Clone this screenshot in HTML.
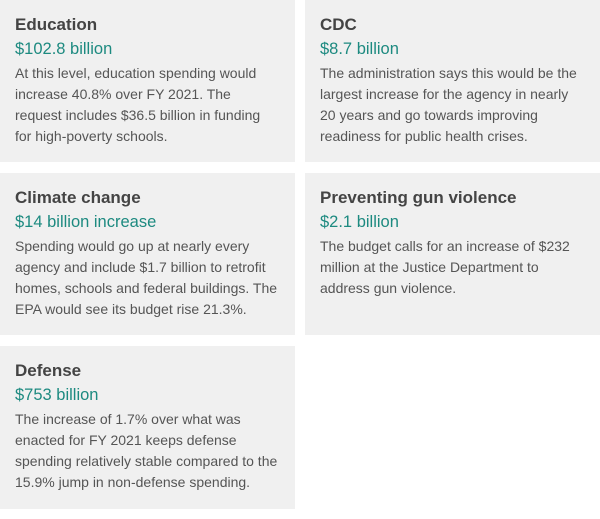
<!DOCTYPE html>
<html><head><meta charset="utf-8"><style>
body{margin:0;width:600px;height:519px;background:#fff;font-family:"Liberation Sans",Arial,sans-serif;position:relative;overflow:hidden}
.card{position:absolute;width:295px;height:162px;background:#f0f0f0;box-sizing:border-box;padding:14px 15px 0 15px}
.t{font-size:17px;font-weight:bold;color:#444;line-height:22px;margin:0;white-space:nowrap}
.a{font-size:16.5px;color:#1d8a80;line-height:22px;margin:2px 0 3px;white-space:nowrap}
.b{font-size:14px;color:#555;line-height:21px;margin:0;white-space:nowrap}
</style></head><body>
<div class="card" style="left:0;top:0">
<div class="t">Education</div>
<div class="a">$102.8 billion</div>
<div class="b">At this level, education spending would<br>increase 40.8% over FY 2021. The<br>request includes $36.5 billion in funding<br>for high-poverty schools.</div></div>
<div class="card" style="left:305px;top:0">
<div class="t">CDC</div>
<div class="a">$8.7 billion</div>
<div class="b">The administration says this would be the<br>largest increase for the agency in nearly<br>20 years and go towards improving<br>readiness for public health crises.</div></div>
<div class="card" style="left:0;top:173px">
<div class="t">Climate change</div>
<div class="a">$14 billion increase</div>
<div class="b">Spending would go up at nearly every<br>agency and include $1.7 billion to retrofit<br>homes, schools and federal buildings. The<br>EPA would see its budget rise 21.3%.</div></div>
<div class="card" style="left:305px;top:173px">
<div class="t">Preventing gun violence</div>
<div class="a">$2.1 billion</div>
<div class="b">The budget calls for an increase of $232<br>million at the Justice Department to<br>address gun violence.</div></div>
<div class="card" style="left:0;top:346px;height:163px">
<div class="t">Defense</div>
<div class="a">$753 billion</div>
<div class="b">The increase of 1.7% over what was<br>enacted for FY 2021 keeps defense<br>spending relatively stable compared to the<br>15.9% jump in non-defense spending.</div></div>
</body></html>
